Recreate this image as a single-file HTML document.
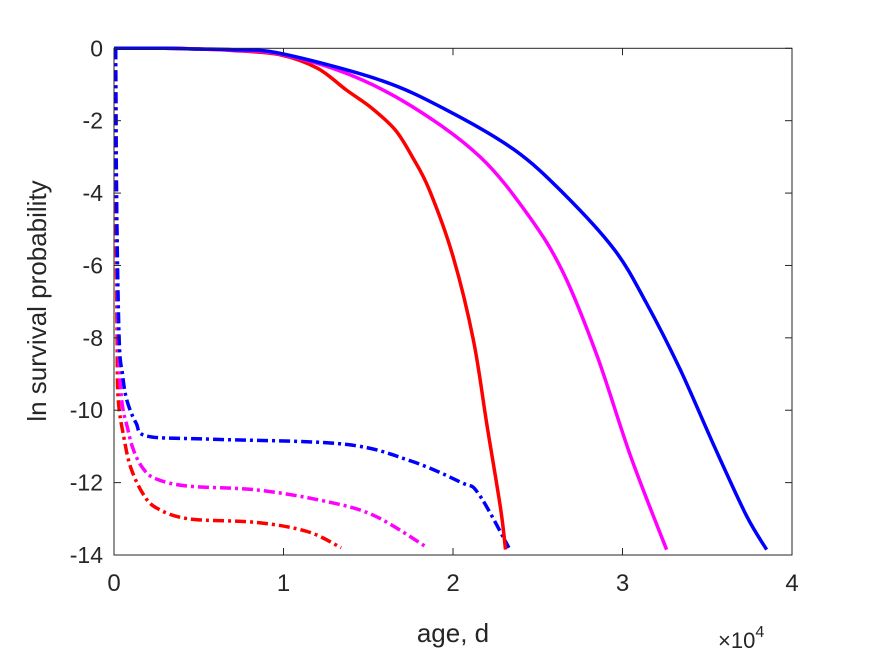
<!DOCTYPE html>
<html><head><meta charset="utf-8"><style>
body{margin:0;background:#fff;}
svg text{font-family:"Liberation Sans",sans-serif;fill:#262626;}
</style></head><body>
<svg id="chart" width="875" height="656" xmlns="http://www.w3.org/2000/svg">
<g id="plot"></g>
<g id="axes"></g>
<text x="453" y="642" font-size="26" text-anchor="middle">age, d</text>
<text x="718" y="648" font-size="22">×10<tspan dy="-11" font-size="16">4</tspan></text>
<text transform="translate(46,301) rotate(-90)" font-size="26" text-anchor="middle">ln survival probability</text>
</svg>
<script>
const xTicks=[0,1,2,3,4];
const yTicks=[0,-2,-4,-6,-8,-10,-12,-14];
const redSolidX=[0,0.3,0.5,0.7,0.98,1.2,1.37,1.52,1.66,1.76,1.86,2.0,2.12,2.2,2.28,2.31];
const redSolidY=[0,0,-0.02,-0.06,-0.18,-0.55,-1.15,-1.65,-2.26,-3.0,-3.91,-5.75,-8.05,-10.4,-12.7,-13.85];
const magSolidX=[0,0.3,0.5,0.7,0.98,1.37,1.76,2.16,2.45,2.65,2.85,3.05,3.26];
const magSolidY=[0,0,-0.02,-0.05,-0.16,-0.69,-1.61,-3.0,-4.65,-6.2,-8.5,-11.3,-13.85];
const blueSolidX=[0,0.3,0.5,0.7,0.98,1.57,1.96,2.36,2.65,2.95,3.14,3.34,3.54,3.73,3.85];
const blueSolidY=[0,0,-0.02,-0.04,-0.14,-0.88,-1.7,-2.8,-4.0,-5.55,-7.03,-8.87,-10.98,-12.9,-13.85];
const redDashX=[0.01,0.012,0.018,0.025,0.06,0.1,0.17,0.25,0.44,0.84,1.14,1.34];
const redDashY=[0,-4,-8,-9.7,-10.8,-11.6,-12.3,-12.7,-13.0,-13.1,-13.35,-13.8];
const magDashX=[0.01,0.015,0.025,0.045,0.08,0.115,0.17,0.25,0.44,0.84,1.23,1.53,1.85];
const magDashY=[0,-4,-8,-9.7,-10.5,-11.1,-11.6,-11.9,-12.1,-12.2,-12.5,-12.9,-13.8];
const blueDashX=[0.01,0.015,0.03,0.05,0.075,0.13,0.2,0.58,1.36,1.75,2.05,2.15,2.33];
const blueDashY=[0,-4,-8,-9.0,-9.71,-10.35,-10.72,-10.8,-10.94,-11.4,-12.0,-12.3,-13.8];

const X0=114,X1=792,Y0=48.3,Y1=555;
const xs=v=>X0+(v-0)/(4-0)*(X1-X0);
const ys=v=>Y0+(0-v)/(14)*(Y1-Y0);
const NS="http://www.w3.org/2000/svg";
const plot=document.getElementById('plot'),axes=document.getElementById('axes');
function mk(t,a,p){const e=document.createElementNS(NS,t);for(const k in a)e.setAttribute(k,a[k]);p.appendChild(e);return e;}
function path(X,Y){
 const P=X.map((x,i)=>[xs(x),ys(Y[i])]);
 let d='M'+P[0][0].toFixed(1)+','+P[0][1].toFixed(1);
 for(let i=0;i<P.length-1;i++){
  const p0=P[i-1]||P[i],p1=P[i],p2=P[i+1],p3=P[i+2]||p2;
  const c1=[p1[0]+(p2[0]-p0[0])/6,p1[1]+(p2[1]-p0[1])/6];
  const c2=[p2[0]-(p3[0]-p1[0])/6,p2[1]-(p3[1]-p1[1])/6];
  d+='C'+c1[0].toFixed(1)+','+c1[1].toFixed(1)+' '+c2[0].toFixed(1)+','+c2[1].toFixed(1)+' '+p2[0].toFixed(1)+','+p2[1].toFixed(1);
 }
 return d;
}
const series=[
 [redDashX,redDashY,'#ff0000',true,'red-dashed-line'],
 [magDashX,magDashY,'#ff00ff',true,'magenta-dashed-line'],
 [blueDashX,blueDashY,'#0000ff',true,'blue-dashed-line'],
 [redSolidX,redSolidY,'#ff0000',false,'red-solid-line'],
 [magSolidX,magSolidY,'#ff00ff',false,'magenta-solid-line'],
 [blueSolidX,blueSolidY,'#0000ff',false,'blue-solid-line']];
series.forEach(s=>{
 const a={d:path(s[0],s[1]),fill:'none',stroke:s[2],'stroke-width':3.5,'stroke-linejoin':'round'};
 if(s[3])a['stroke-dasharray']='11 4 3 4';
 const e=mk('path',a,plot);
 
 
});
const box=mk('rect',{x:X0,y:Y0,width:X1-X0,height:Y1-Y0,fill:'none',stroke:'#262626','stroke-width':1},axes);


xTicks.forEach(t=>{
 const x=xs(t);
 mk('line',{x1:x,x2:x,y1:Y1,y2:Y1-7,stroke:'#262626'},axes);
 mk('line',{x1:x,x2:x,y1:Y0,y2:Y0+7,stroke:'#262626'},axes);
 const e=mk('text',{x:x,y:Y1+36,'font-size':24,'text-anchor':'middle'},axes);
 e.textContent=t;
 
 
});
yTicks.forEach(t=>{
 const y=ys(t);
 mk('line',{x1:X0,x2:X0+7,y1:y,y2:y,stroke:'#262626'},axes);
 mk('line',{x1:X1,x2:X1-7,y1:y,y2:y,stroke:'#262626'},axes);
 const e=mk('text',{x:X0-11,y:y+8,'font-size':23,'text-anchor':'end'},axes);
 e.textContent=t;
 
 
});
</script>
</body></html>
